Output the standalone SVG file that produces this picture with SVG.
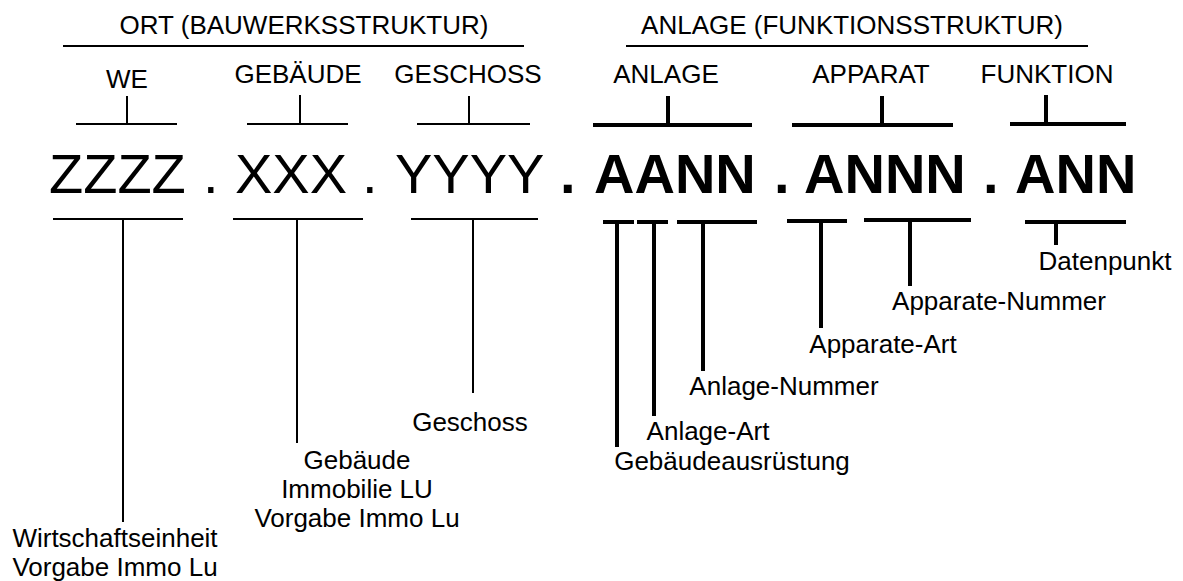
<svg xmlns="http://www.w3.org/2000/svg" width="1183" height="581" viewBox="0 0 1183 581">
  <style>
    text { font-family: "Liberation Sans", Arial, sans-serif; fill: #000; }
    .lbl { font-size: 26px; text-anchor: middle; }
    .code { font-size: 56px; }
    .bold { font-weight: bold; }
    .thin { stroke: #000; stroke-width: 2; fill: none; }
    .thick { stroke: #000; stroke-width: 4; fill: none; }
  </style>
  <rect width="1183" height="581" fill="#fff"/>

  <!-- section headings -->
  <g id="heading-ort">
    <text class="lbl" x="304" y="34">ORT (BAUWERKSSTRUKTUR)</text>
  </g>
  <g id="heading-anlage">
    <text class="lbl" x="852" y="34">ANLAGE (FUNKTIONSSTRUKTUR)</text>
  </g>

  <!-- segment titles -->
  <g id="title-we"><text class="lbl" x="127" y="88">WE</text></g>
  <g id="title-gebaeude"><text class="lbl" x="298" y="83">GEBÄUDE</text></g>
  <g id="title-geschoss"><text class="lbl" x="468" y="83">GESCHOSS</text></g>
  <g id="title-anlage"><text class="lbl" x="666" y="83">ANLAGE</text></g>
  <g id="title-apparat"><text class="lbl" x="871" y="83">APPARAT</text></g>
  <g id="title-funktion"><text class="lbl" x="1047" y="83">FUNKTION</text></g>

  <!-- code pattern -->
  <g id="code">
    <text class="code" x="49" y="193">ZZZZ</text>
    <text class="code" x="203" y="193">.</text>
    <text class="code" x="235" y="193">XXX</text>
    <text class="code" x="362" y="193">.</text>
    <text class="code" x="395" y="193">YYYY</text>
    <text class="code bold" x="560" y="193">.</text>
    <text class="code bold" x="594" y="193">AANN</text>
    <text class="code bold" x="774" y="193">.</text>
    <text class="code bold" x="804" y="193">ANNN</text>
    <text class="code bold" x="983" y="193">.</text>
    <text class="code bold" x="1015" y="193">ANN</text>
  </g>

  <!-- field descriptions -->
  <g id="desc-we">
    <text class="lbl" x="115" y="547">Wirtschaftseinheit</text>
    <text class="lbl" x="115" y="576">Vorgabe Immo Lu</text>
  </g>
  <g id="desc-gebaeude">
    <text class="lbl" x="357" y="469">Gebäude</text>
    <text class="lbl" x="357" y="498">Immobilie LU</text>
    <text class="lbl" x="357" y="527">Vorgabe Immo Lu</text>
  </g>
  <g id="desc-geschoss"><text class="lbl" x="470" y="431">Geschoss</text></g>
  <g id="desc-ga"><text class="lbl" x="732" y="470">Gebäudeausrüstung</text></g>
  <g id="desc-anlage-art"><text class="lbl" x="708" y="440">Anlage-Art</text></g>
  <g id="desc-anlage-nr"><text class="lbl" x="784" y="395">Anlage-Nummer</text></g>
  <g id="desc-apparate-art"><text class="lbl" x="883" y="353">Apparate-Art</text></g>
  <g id="desc-apparate-nr"><text class="lbl" x="999" y="310">Apparate-Nummer</text></g>
  <g id="desc-datenpunkt"><text class="lbl" x="1105" y="270">Datenpunkt</text></g>

  <!-- brackets and leader lines -->
  <g id="connectors">
    <!-- heading rules -->
    <path class="thin" d="M63 46H524"/>
    <path class="thin" d="M626 46H1088"/>
    <!-- upper brackets, location part -->
    <path class="thin" d="M76 124H177M127 96V124"/>
    <path class="thin" d="M247 124H348M300 95V124"/>
    <path class="thin" d="M417 124H530M469 96V124"/>
    <!-- upper brackets, function part -->
    <path class="thick" d="M593 125H752M668 96V125"/>
    <path class="thick" d="M792 125H953M882 96V125"/>
    <path class="thick" d="M1010 124H1126M1046 95V124"/>
    <!-- lower leaders, location part -->
    <path class="thin" d="M53 219H183M123 219V522"/>
    <path class="thin" d="M233 219H363M297 219V443"/>
    <path class="thin" d="M411 219H538M473 219V393"/>
    <!-- lower leaders, function part -->
    <path class="thick" d="M603 222H634M617 222V447"/>
    <path class="thick" d="M637 222H668M654 222V416"/>
    <path class="thick" d="M677 222H757M703 222V371"/>
    <path class="thick" d="M787 221H847M821 221V328"/>
    <path class="thick" d="M864 220H971M910 220V286"/>
    <path class="thick" d="M1025 222H1126M1056 222V245"/>
  </g>
</svg>
